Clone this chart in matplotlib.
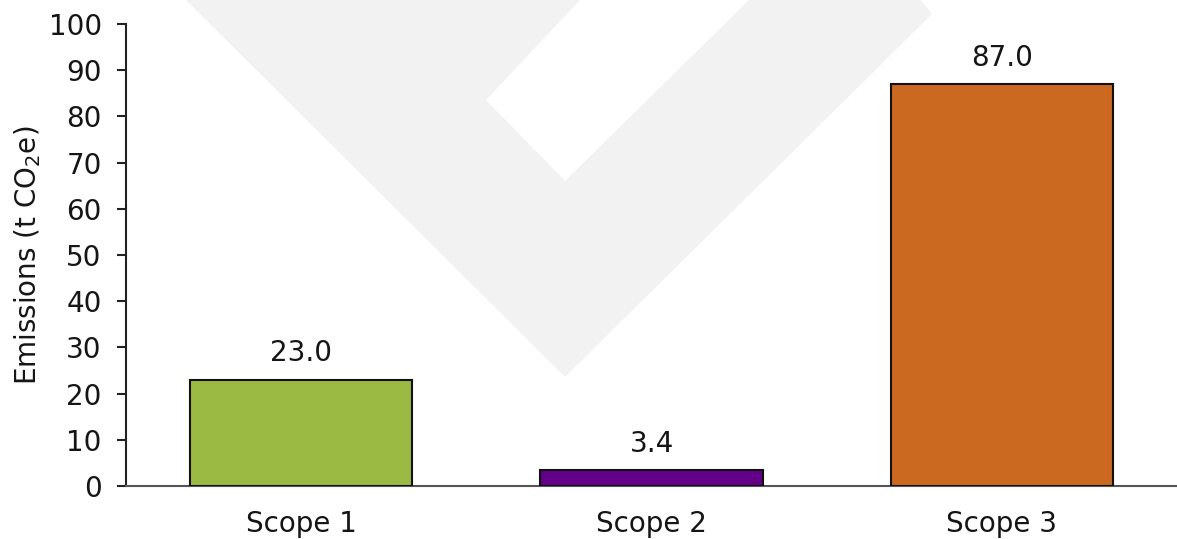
import matplotlib
matplotlib.use("Agg")
import matplotlib.pyplot as plt
from matplotlib.patches import Polygon

# data
scopes = ["Scope 1", "Scope 2", "Scope 3"]
emissions = [23.0, 3.4, 87.0]
bar_colors = ["#9BBA43", "#62008A", "#CB6920"]
y_ticks = list(range(0, 101, 10))

plt.rcParams["font.family"] = ["DejaVu Sans"]
plt.rcParams["mathtext.default"] = "regular"

W, H = 1177, 539
fig = plt.figure(figsize=(W / 100, H / 100), dpi=100)

# light grey logo watermark in the background (pixel outline, top-left origin)
logo_px = [(188, 0), (565, 375), (930, 14), (919, 0), (751, 0),
           (565, 183), (484, 100), (578, 0)]
logo = Polygon([(x / W, 1 - y / H) for x, y in logo_px], closed=True,
               transform=fig.transFigure, facecolor="#F2F2F2",
               edgecolor="#F2F2F2", linewidth=2, joinstyle="round", zorder=0)
fig.patches.append(logo)

ax = fig.add_axes([126 / W, 1 - 486 / H, 1 - 126 / W, (486 - 24) / H])
ax.patch.set_alpha(0)

x = list(range(len(scopes)))
bars = ax.bar(x, emissions, width=0.635, color=bar_colors,
              edgecolor="#111111", linewidth=1.5, zorder=3)

for xi, v in zip(x, emissions):
    ax.annotate(f"{v:.1f}", (xi, v), xytext=(0, 9), textcoords="offset points",
                ha="center", va="bottom", fontsize=20, color="#151515")

ax.set_xlim(-0.5, 2.5)
ax.set_ylim(0, 100)
ax.set_yticks(y_ticks)
ax.set_xticks(x)
ax.set_xticklabels(scopes)
ax.tick_params(axis="y", length=6.5, width=1.5, color="#222222",
               labelsize=20, labelcolor="#151515", pad=11)
ax.tick_params(axis="x", length=0, labelsize=20, labelcolor="#151515", pad=17)

ax.set_ylabel("Emissions (t CO$_2$e)", fontsize=20, color="#151515", labelpad=4)

for s in ["top", "right"]:
    ax.spines[s].set_visible(False)
ax.spines["left"].set_color("#222222")
ax.spines["left"].set_linewidth(1.5)
ax.spines["bottom"].set_color("#555555")
ax.spines["bottom"].set_linewidth(1.5)

fig.savefig("out.png", dpi=100)
